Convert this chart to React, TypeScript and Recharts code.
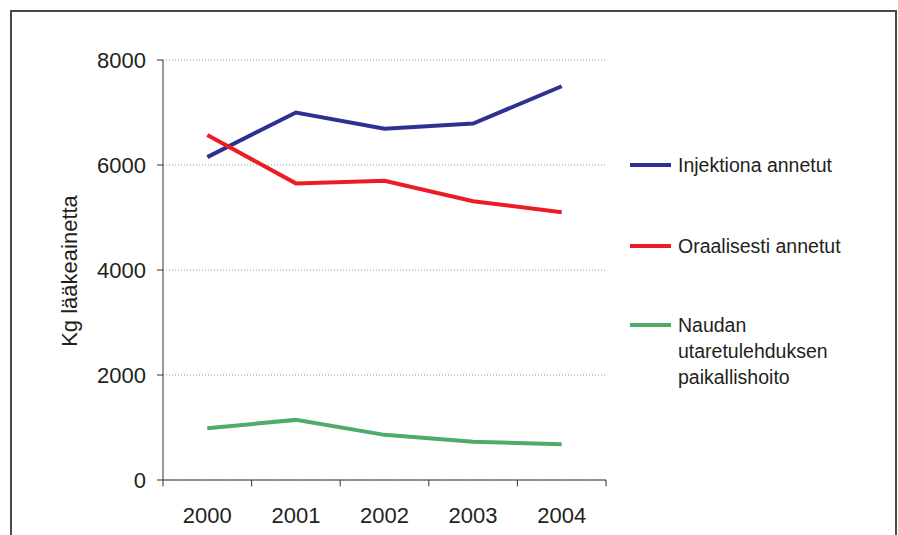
import React from "react";
import { CartesianGrid, Line, LineChart, ReferenceLine, XAxis, YAxis } from "recharts";

const years = [2000, 2001, 2002, 2003, 2004];
const injektiona = [6150, 7000, 6690, 6790, 7500];
const oraalisesti = [6570, 5650, 5700, 5310, 5100];
const naudan = [985, 1145, 860, 730, 680];
const yTicks = [0, 2000, 4000, 6000, 8000];

const series = [
  { key: "injektiona", name: ["Injektiona annetut"], color: "#2e3192", top: 152 },
  { key: "oraalisesti", name: ["Oraalisesti annetut"], color: "#ed1c24", top: 233 },
  { key: "naudan", name: ["Naudan", "utaretulehduksen", "paikallishoito"], color: "#4dab6c", top: 312 },
];

const data = years.map((year, i) => ({
  year,
  injektiona: injektiona[i],
  oraalisesti: oraalisesti[i],
  naudan: naudan[i],
}));

// boundaries between years, for the small tick marks under the x axis
const edges = [...years.map((y) => y - 0.5), years[years.length - 1] + 0.5];

const font = "'Liberation Sans', Arial, sans-serif";
const axisColor = "#333";
const textColor = "#231f20";

export default function App() {
  return (
    <div
      style={{
        position: "fixed",
        left: 0,
        top: 0,
        width: 898,
        height: 535,
        overflow: "hidden",
        background: "#fff",
        fontFamily: font,
      }}
    >
      <div
        style={{
          position: "absolute",
          left: 10,
          top: 10,
          width: 883,
          height: 560,
          border: "2px solid #4a4a4a",
        }}
      />
      <div style={{ position: "absolute", left: 0, top: 0 }}>
        <LineChart width={898} height={535} data={data} margin={{ top: 60, right: 292, bottom: 10, left: 103 }}>
          <CartesianGrid horizontal vertical={false} stroke="#999" strokeDasharray="1 2" />
          <XAxis
            dataKey="year"
            type="number"
            domain={[1999.5, 2004.5]}
            ticks={years}
            height={45}
            tickLine={false}
            tickSize={6}
            tickMargin={21}
            axisLine={{ stroke: axisColor }}
            tick={{ fill: textColor, fontSize: 22, fontFamily: font }}
          />
          <YAxis
            type="number"
            domain={[0, 8000]}
            ticks={yTicks}
            width={60}
            tickSize={6}
            tickMargin={11}
            axisLine={{ stroke: axisColor }}
            tickLine={{ stroke: axisColor }}
            tick={{ fill: textColor, fontSize: 22, fontFamily: font }}
            label={{
              content: (props: any) => {
                const vb = props.viewBox || { x: 103, y: 60, height: 420 };
                const cx = vb.x - 34;
                const cy = vb.y + vb.height / 2 + 1;
                return (
                  <text
                    x={cx}
                    y={cy}
                    transform={`rotate(-90 ${cx} ${cy})`}
                    textAnchor="middle"
                    dominantBaseline="central"
                    fill={textColor}
                    fontSize={22}
                    fontFamily={font}
                  >
                    Kg lääkeainetta
                  </text>
                );
              },
            }}
          />
          {edges.map((e) => (
            <ReferenceLine
              key={e}
              segment={[
                { x: e, y: 0 },
                { x: e, y: -120 },
              ]}
              stroke={axisColor}
              ifOverflow="visible"
            />
          ))}
          {series.map((s) => (
            <Line
              key={s.key}
              type="linear"
              dataKey={s.key}
              stroke={s.color}
              strokeWidth={4}
              dot={false}
              activeDot={false}
              isAnimationActive={false}
            />
          ))}
        </LineChart>
      </div>
      {series.map((s) => (
        <div key={s.key} style={{ position: "absolute", left: 630, top: s.top, display: "flex", alignItems: "flex-start" }}>
          <span style={{ display: "inline-block", width: 41, height: 4, marginTop: 11, background: s.color }} />
          <div style={{ marginLeft: 7, fontSize: 19.5, lineHeight: "26px", color: textColor }}>
            {s.name.map((n) => (
              <div key={n}>{n}</div>
            ))}
          </div>
        </div>
      ))}
    </div>
  );
}
